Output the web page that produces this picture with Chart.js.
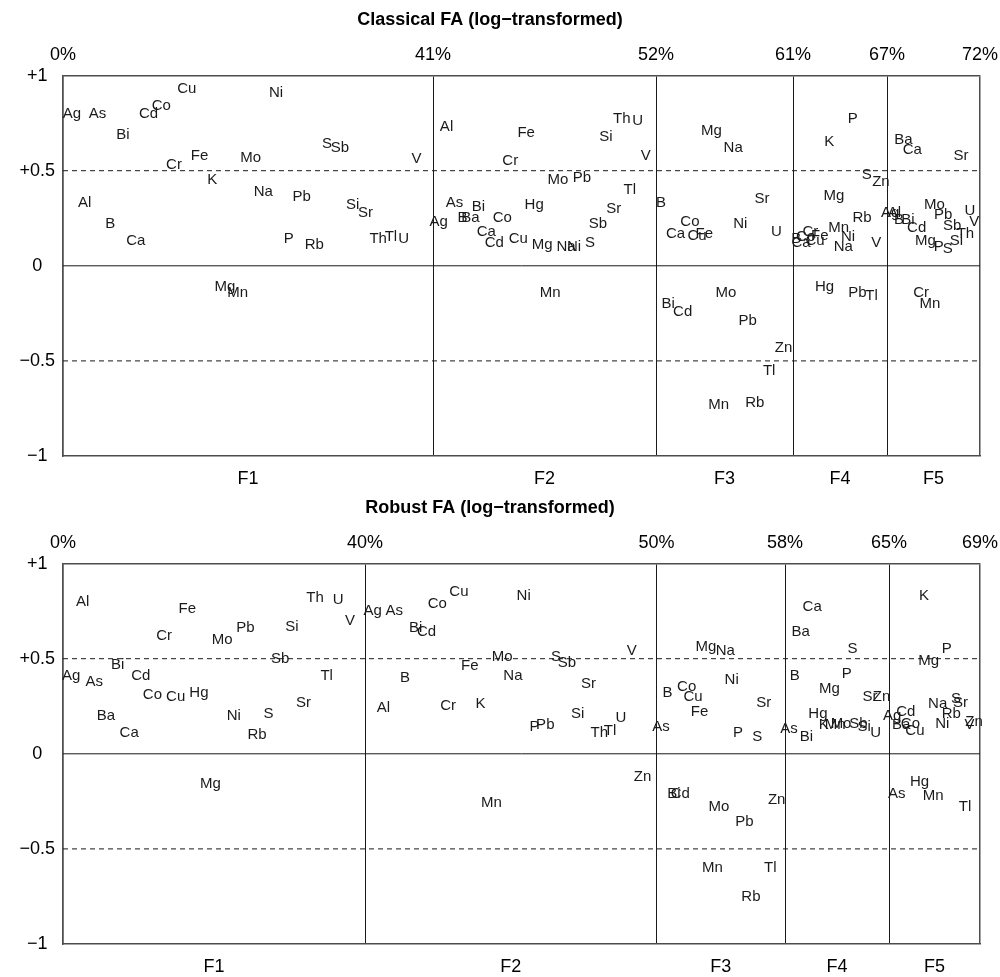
<!DOCTYPE html>
<html>
<head>
<meta charset="utf-8">
<script src="https://cdn.jsdelivr.net/npm/chart.js@4/dist/chart.umd.min.js"></script>
<style>
  html, body { margin: 0; padding: 0; background: #fff; }
  .panel { position: relative; width: 1000px; height: 488px; }
</style>
</head>
<body>
<div class="panel"><canvas id="classical"></canvas></div>
<div class="panel"><canvas id="robust"></canvas></div>
<script>
// Element order used in every factor column
const elements = ['Ag','Al','As','B','Ba','Bi','Ca','Cd','Co','Cr','Cu','Fe','Hg','K','Mg','Mn',
                  'Mo','Na','Ni','P','Pb','Rb','S','Sb','Si','Sr','Th','Tl','U','V','Zn'];
const factorNames = ['F1', 'F2', 'F3', 'F4', 'F5'];
const _ = null; // element not listed in that factor

// Classical FA loadings (log-transformed data)
//                 Ag   Al   As   B    Ba   Bi   Ca   Cd   Co   Cr   Cu   Fe   Hg   K    Mg   Mn   Mo   Na   Ni   P    Pb   Rb   S    Sb   Si   Sr   Th   Tl   U    V    Zn
const classicalF1 = [.80, .33, .80, .22, _,   .69, .13, .80, .84, .53, .93, .58, _,   .45,-.11,-.14, .57, .39, .91, .14, .36, .11, .64, .62, .32, .28, .14, .15, .14, .56, _];
const classicalF2 = [.23, .73, .33, .25, .25, .31, .18, .12, .25, .55, .14, .70, .32, _,   .11,-.14, .45, .10, .10, _,   .46, _,   .12, .22, .68, .30, .77, .40, .76, .58, _];
const classicalF3 = [_,   _,   _,   .33, _,  -.20, .17,-.24, .23, _,   .16, .17, _,   _,   .71,-.73,-.14, .62, .22, _,  -.29,-.72, _,   _,   _,   .35, _,  -.55, .18, _,  -.43];
const classicalF4 = [_,   _,   _,   .14, _,   _,   .12, _,   .15, .18, .13, .16,-.11, .65, .37, .20, _,   .10, .15, .77,-.14, .25, .48, _,   _,   _,   _,  -.16, _,   .12, .44];
const classicalF5 = [.28, .28, _,   .24, .66, .24, .61, .20, _,  -.14, _,   _,   _,   _,   .13,-.20, .32, _,   _,   .10, .27, _,   .09, .21, .13, .58, .17, _,   .29, .23, _];
const classicalCumVar = ['0%', '41%', '52%', '61%', '67%', '72%'];
const classicalColumnWidths = [370, 223, 137, 94, 93];

// Robust FA loadings (log-transformed data)
//                 Ag   Al   As   B    Ba   Bi   Ca   Cd   Co   Cr   Cu   Fe   Hg   K    Mg   Mn   Mo   Na   Ni   P    Pb   Rb   S    Sb   Si   Sr   Th   Tl   U    V    Zn
const robustF1 = [.41, .80, .38, _,   .20, .47, .11, .41, .31, .62, .30, .76, .32, _,  -.16, _,   .60, _,   .20, _,   .66, .10, .21, .50, .67, .27, .82, .41, .81, .70, _];
const robustF2 = [.75, .24, .75, .40, _,   .66, _,   .64, .79, .25, .85, .46, _,   .26, _,  -.26, .51, .41, .83, .14, .15, _,   .51, .48, .21, .37, .11, .12, .19, .54,-.12];
const robustF3 = [_,   _,   .14, .32, _,  -.21, _,  -.21, .35, _,   .30, .22, _,   _,   .56,-.60,-.28, .54, .39, .11,-.36,-.75, .09, _,   _,   .27, _,  -.60, _,   _,  -.24];
const robustF4 = [_,   _,   .13, .41, .64, .09, .77, _,   _,   _,   _,   _,   .21, .15, .34, .15, .16, _,   _,   .42, _,   _,   .55, .16, .14, .30, _,   _,   .11, _,   .30];
const robustF5 = [.20, _,  -.21, _,   .15, _,   _,   .22, .16, _,   .12, _,  -.15, .83, .49,-.22, _,   .26, .16, .55, _,   .21, .29, _,   _,   .27, _,  -.28, _,   .15, .17];
const robustCumVar = ['0%', '40%', '50%', '58%', '65%', '69%'];
const robustColumnWidths = [302, 291.5, 128.5, 104, 91];

const yTickValues = [-1, -0.5, 0, 0.5, 1];
const yTickLabels = ['\u22121', '\u22120.5', '0', '+0.5', '+1'];

Chart.defaults.font.family = '"Liberation Sans", Arial, Helvetica, sans-serif';
Chart.defaults.color = '#000';

// Writes each element symbol at its point position
const elementLabels = {
  id: 'elementLabels',
  afterDatasetsDraw(chart) {
    const ctx = chart.ctx;
    ctx.save();
    ctx.font = '15px "Liberation Sans", Arial, Helvetica, sans-serif';
    ctx.fillStyle = '#1a1a1a';
    ctx.textAlign = 'center';
    ctx.textBaseline = 'middle';
    chart.data.datasets.forEach((ds, di) => {
      if (!ds.elementNames) return;
      const meta = chart.getDatasetMeta(di);
      meta.data.forEach((pt, i) => ctx.fillText(ds.elementNames[i], pt.x, pt.y));
    });
    ctx.restore();
  }
};

function buildPanel(canvasId, title, factors, columnWidths, cumVarLabels) {
  const edges = [0];
  columnWidths.forEach(w => edges.push(edges[edges.length - 1] + w));
  const total = edges[edges.length - 1];
  const centers = columnWidths.map((w, i) => edges[i] + w / 2);

  // One scatter dataset per factor; listed elements are spread evenly across the column
  const factorSets = factors.map((loadings, f) => {
    const listed = [];
    loadings.forEach((v, k) => { if (v !== null) listed.push(k); });
    const step = columnWidths[f] / (listed.length + 1);
    return {
      type: 'scatter',
      data: listed.map((k, r) => ({ x: edges[f] + (r + 0.7) * step, y: loadings[k] })),
      elementNames: listed.map(k => elements[k]),
      pointRadius: 0,
      pointHoverRadius: 0,
      xAxisID: 'x',
      yAxisID: 'y'
    };
  });

  const refLine = (y, dash) => ({
    type: 'line',
    data: [{ x: 0, y: y }, { x: total, y: y }],
    borderColor: '#1a1a1a',
    borderWidth: 1,
    borderDash: dash,
    pointRadius: 0,
    fill: false,
    xAxisID: 'x',
    yAxisID: 'y'
  });

  const isEdge = ctx => ctx.index === 0 || ctx.index === edges.length - 1;
  const noSidePadding = s => { s.paddingLeft = 0; s.paddingRight = 0; };

  return new Chart(document.getElementById(canvasId), {
    type: 'scatter',
    data: {
      datasets: [refLine(0, []), refLine(0.5, [5, 4]), refLine(-0.5, [5, 4]), ...factorSets]
    },
    options: {
      responsive: true,
      maintainAspectRatio: false,
      animation: false,
      devicePixelRatio: 1,
      events: [],
      layout: { padding: { left: 0, right: 20, top: 0, bottom: 0 } },
      plugins: {
        legend: { display: false },
        tooltip: { enabled: false },
        title: {
          display: true,
          text: title,
          color: '#000',
          font: { size: 18, weight: 'bold' },
          padding: { top: 9, bottom: 0 }
        }
      },
      scales: {
        x: {
          type: 'linear',
          position: 'bottom',
          min: 0,
          max: total,
          afterBuildTicks: s => { s.ticks = centers.map(v => ({ value: v })); },
          afterFit: s => { s.height = 32; noSidePadding(s); },
          ticks: {
            autoSkip: false, maxRotation: 0, padding: 12,
            font: { size: 18 }, color: '#000',
            callback: (v, i) => factorNames[i]
          },
          grid: { drawOnChartArea: false, drawTicks: false },
          border: { display: true, color: '#4d4d4d', width: 1.5 }
        },
        xTop: {
          type: 'linear',
          position: 'top',
          min: 0,
          max: total,
          afterBuildTicks: s => { s.ticks = edges.map(v => ({ value: v })); },
          afterFit: s => { s.height = 45; noSidePadding(s); },
          ticks: {
            autoSkip: false, maxRotation: 0, padding: 10,
            font: { size: 18 }, color: '#000',
            callback: (v, i) => cumVarLabels[i]
          },
          grid: {
            drawTicks: false,
            color: ctx => isEdge(ctx) ? '#4d4d4d' : '#1a1a1a',
            lineWidth: ctx => isEdge(ctx) ? 1.5 : 1
          },
          border: { display: true, color: '#4d4d4d', width: 1.5 }
        },
        y: {
          min: -1,
          max: 1,
          afterBuildTicks: s => { s.ticks = yTickValues.map(v => ({ value: v })); },
          afterFit: s => { s.width = 63; },
          ticks: {
            crossAlign: 'center', padding: 8,
            font: { size: 18 }, color: '#000',
            callback: (v, i) => yTickLabels[i]
          },
          grid: { drawOnChartArea: false, drawTicks: false },
          border: { display: true, color: '#4d4d4d', width: 1.5 }
        }
      }
    },
    plugins: [elementLabels]
  });
}

buildPanel('classical', 'Classical FA (log\u2212transformed)',
  [classicalF1, classicalF2, classicalF3, classicalF4, classicalF5],
  classicalColumnWidths, classicalCumVar);

buildPanel('robust', 'Robust FA (log\u2212transformed)',
  [robustF1, robustF2, robustF3, robustF4, robustF5],
  robustColumnWidths, robustCumVar);
</script>
</body>
</html>
